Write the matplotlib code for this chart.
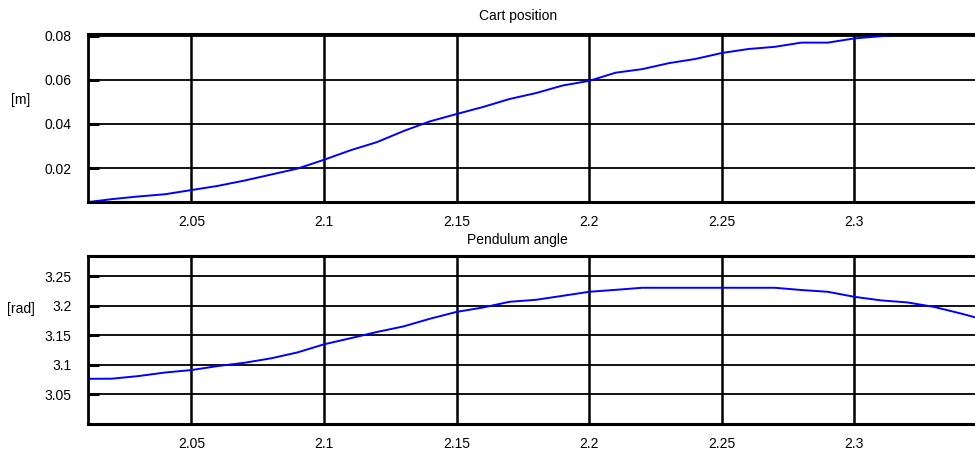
import matplotlib
matplotlib.use('Agg')
import matplotlib.pyplot as plt

plt.rcParams['font.family'] = ['Liberation Sans', 'DejaVu Sans']

# time axis, 0.01 s steps
t = [2.01, 2.02, 2.03, 2.04, 2.05, 2.06, 2.07, 2.08, 2.09, 2.10,
     2.11, 2.12, 2.13, 2.14, 2.15, 2.16, 2.17, 2.18, 2.19, 2.20,
     2.21, 2.22, 2.23, 2.24, 2.25, 2.26, 2.27, 2.28, 2.29, 2.30,
     2.31, 2.32, 2.33, 2.34, 2.35]

cart_pos = [0.0045, 0.0060, 0.0072, 0.0082, 0.0101, 0.0120, 0.0144, 0.0171, 0.0198, 0.0238,
            0.0281, 0.0318, 0.0368, 0.0412, 0.0445, 0.0477, 0.0513, 0.0540, 0.0574, 0.0595,
            0.0632, 0.0648, 0.0675, 0.0694, 0.0721, 0.0739, 0.0749, 0.0768, 0.0768, 0.0787,
            0.0797, 0.0806, 0.0806, 0.0806, 0.0806]

pend_angle = [3.0764, 3.0766, 3.0810, 3.0870, 3.0912, 3.0980, 3.1035, 3.1110, 3.1210, 3.1347,
              3.1450, 3.1556, 3.1650, 3.1780, 3.1895, 3.1970, 3.2066, 3.2100, 3.2167, 3.2235,
              3.2268, 3.2303, 3.2303, 3.2303, 3.2303, 3.2303, 3.2303, 3.2265, 3.2235, 3.2150,
              3.2090, 3.2055, 3.1980, 3.1870, 3.1750]

xticks = [2.05, 2.1, 2.15, 2.2, 2.25, 2.3]
xlabels = ['2.05', '2.1', '2.15', '2.2', '2.25', '2.3']
pos_ticks = [0.02, 0.04, 0.06, 0.08]
pos_labels = ['0.02', '0.04', '0.06', '0.08']
ang_ticks = [3.05, 3.1, 3.15, 3.2, 3.25]
ang_labels = ['3.05', '3.1', '3.15', '3.2', '3.25']

fig = plt.figure(figsize=(9.75, 4.55), dpi=100)
ax1 = fig.add_axes([88/975, 1-202/455, 1-88/975, 168/455])
ax2 = fig.add_axes([88/975, 1-424/455, 1-88/975, 168/455])


def style(ax, yt, yl):
    ax.set_xlim(2.011, 2.3455)
    ax.set_xticks(xticks)
    ax.set_xticklabels(xlabels)
    ax.set_yticks(yt)
    ax.set_yticklabels(yl)
    ax.grid(True, axis='x', color='black', lw=1.8)
    ax.grid(True, axis='y', color='black', lw=1.3)
    ax.set_axisbelow(True)
    ax.tick_params(axis='y', direction='in', length=8, width=2.2, pad=12, labelsize=10)
    ax.tick_params(axis='x', direction='in', length=0, pad=9, labelsize=10)
    for s in ['top', 'bottom']:
        ax.spines[s].set_linewidth(2.2)
    ax.spines['left'].set_linewidth(2)
    ax.spines['right'].set_visible(False)


ax1.plot(t, cart_pos, color='#0000ff', lw=1.4)
style(ax1, pos_ticks, pos_labels)
ax1.set_ylim(0.0047, 0.0807)

ax2.plot(t, pend_angle, color='#0000ff', lw=1.4)
style(ax2, ang_ticks, ang_labels)
ax2.set_ylim(3.0, 3.284)

fig.text(518/975, 1-16/455, 'Cart position', ha='center', va='center', fontsize=10)
fig.text(517/975, 1-240/455, 'Pendulum angle', ha='center', va='center', fontsize=10)
fig.text(21/975, 1-100/455, '[m]', ha='center', va='center', fontsize=10)
fig.text(21/975, 1-309/455, '[rad]', ha='center', va='center', fontsize=10)

fig.savefig('out.png', dpi=100)
